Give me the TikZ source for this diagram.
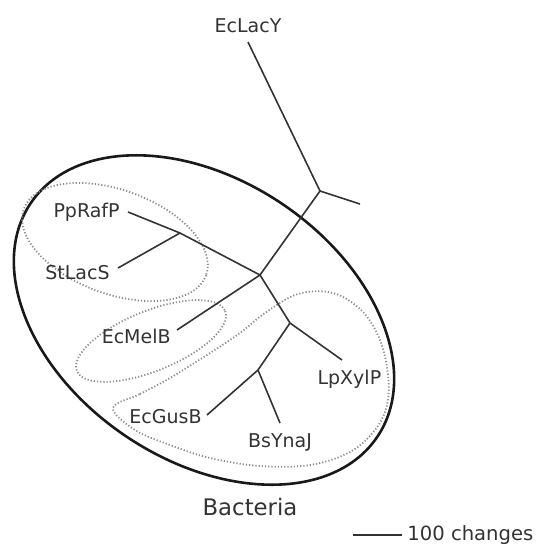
\documentclass[tikz,border=0pt]{standalone}
\usepackage{fontspec}
\setmainfont{DejaVu Sans}
\usepackage{tikz}
\usetikzlibrary{positioning}

\begin{document}
\begin{tikzpicture}[x=0.5pt, y=-0.5pt,
    taxon/.style={inner sep=0pt, text=black!80, font=\fontsize{9.5}{11}\selectfont},
    branch/.style={draw=black!80, line width=0.8pt},
    clade/.style={draw=black!45, line width=0.9pt, dash pattern=on 0.6pt off 1pt},
    hull/.style={draw=black!90, line width=1.3pt}]

    \useasboundingbox (0,0) rectangle (536,548);

    % groups
    \draw [hull] (204,320) ellipse [x radius=209, y radius=140, rotate=-34];
    \draw [clade] (115,242) ellipse [x radius=97, y radius=52, rotate=-20];
    \draw [clade] (151,341) ellipse [x radius=80, y radius=30, rotate=22];
    \draw [clade] plot [smooth cycle, tension=0.6] coordinates {(113,408) (140,394) (170,378)
        (210,353) (240,333) (265,313) (298,294) (333,293) (362,311) (380,340) (388,375)
        (387,405) (375,430) (350,452) (310,465) (260,466) (210,458) (170,445) (135,430)};

    % tree
    \coordinate (nA) at (320,191);
    \coordinate (nB) at (260,275);
    \coordinate (nC) at (180,233);
    \coordinate (nD) at (290,323);
    \coordinate (nE) at (258,370);
    \coordinate (tOut) at (360,204);
    \coordinate (tEcLacY) at (248,42);
    \coordinate (tPpRafP) at (128,212);
    \coordinate (tStLacS) at (118,268);
    \coordinate (tEcMelB) at (177,330);
    \coordinate (tLpXylP) at (342,360);
    \coordinate (tEcGusB) at (207,415);
    \coordinate (tBsYnaJ) at (280,423);

    \node [taxon, above=4.5pt of tEcLacY] (EcLacY) {EcLacY};
    \node [taxon, left=4pt of tPpRafP] (PpRafP) {PpRafP};
    \node [taxon, left=4pt of tStLacS, yshift=-2.5pt] (StLacS) {StLacS};
    \node [taxon, left=3pt of tEcMelB, yshift=-3.2pt] (EcMelB) {EcMelB};
    \node [taxon, below=5pt of tLpXylP, xshift=3.7pt] (LpXylP) {LpXylP};
    \node [taxon, left=2.5pt of tEcGusB, yshift=-0.8pt] (EcGusB) {EcGusB};
    \node [taxon, below=5pt of tBsYnaJ] (BsYnaJ) {BsYnaJ};

    \draw [branch] (tEcLacY) -- (nA);
    \draw [branch] (nA) -- (tOut);
    \draw [branch] (nA) -- (nB);
    \draw [branch] (tPpRafP) -- (nC) -- (nB);
    \draw [branch] (tStLacS) -- (nC);
    \draw [branch] (tEcMelB) -- (nB);
    \draw [branch] (nB) -- (nD);
    \draw [branch] (nD) -- (tLpXylP);
    \draw [branch] (nD) -- (nE);
    \draw [branch] (nE) -- (tEcGusB);
    \draw [branch] (nE) -- (tBsYnaJ);

    \node [taxon, font=\fontsize{11.4}{13}\selectfont] (Bacteria) at (250,507) {Bacteria};

    % scale bar
    \coordinate (sL) at (353,535);
    \coordinate (sR) at (402,535);
    \node [taxon, anchor=west, font=\fontsize{9.8}{12}\selectfont] (scale) at (407,535) {100 changes};
    \draw [branch] (sL) -- (sR);
\end{tikzpicture}
\end{document}
